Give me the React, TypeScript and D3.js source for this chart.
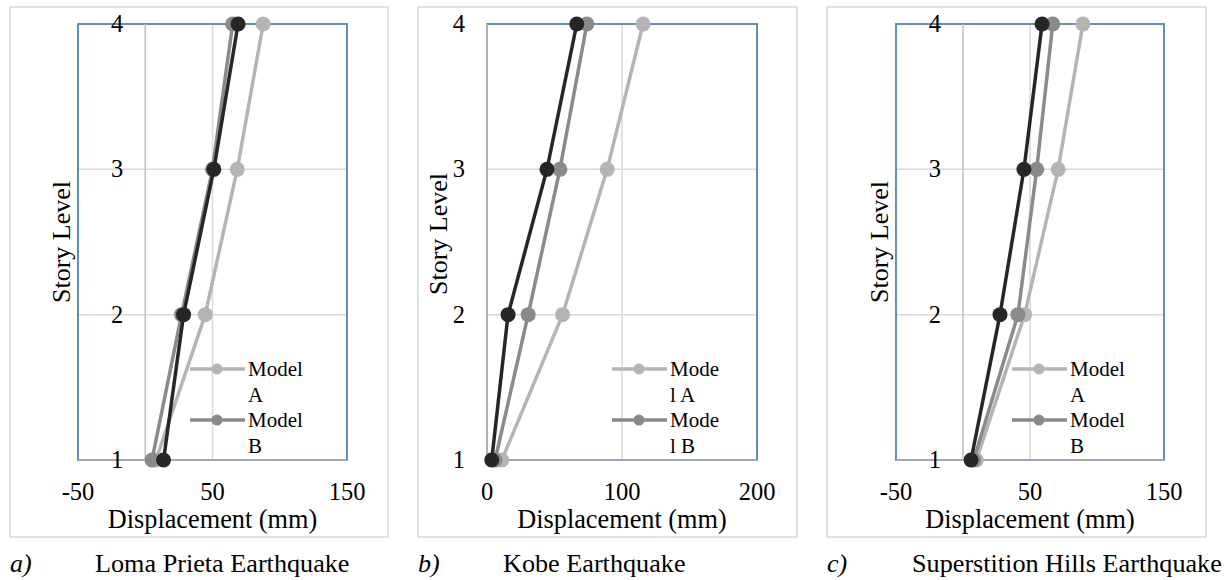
import React from 'react';
import * as d3 from 'd3';

// story levels (y) and displacements in mm (x)
const levels = [1, 2, 3, 4];

const lomaA = [8, 44.6, 68.4, 87.7];
const lomaB = [5, 27, 50, 65];
const lomaC = [13.6, 28.5, 51, 69];

const kobeA = [11, 56, 89, 115.6];
const kobeB = [6, 30.5, 54, 74];
const kobeC = [3.5, 15.6, 44.4, 66.5];

const superA = [10, 46, 71, 89.5];
const superB = [8, 41, 55, 67];
const superC = [6, 27.6, 45.5, 59];

const xTicksA = [-50, 50, 150];
const xTicksB = [0, 100, 200];
const xTicksC = [-50, 50, 150];

const captions = ['Loma Prieta Earthquake', 'Kobe Earthquake', 'Superstition Hills Earthquake'];
const captionLetters = ['a)', 'b)', 'c)'];
const legendA = [['Model', 'A'], ['Mode', 'l A'], ['Model', 'A']];
const legendB = [['Model', 'B'], ['Mode', 'l B'], ['Model', 'B']];

const colors = ['#b4b4b4', '#8a8a8a', '#262626'];
const font = 'Liberation Serif, Times New Roman, serif';

const panels = [
  { series: [lomaA, lomaB, lomaC], ticks: xTicksA, domain: [-50, 150], box: [10, 388], plot: [78, 347], titleX: 70, titleY: 242, legX: 190 },
  { series: [kobeA, kobeB, kobeC], ticks: xTicksB, domain: [0, 200], box: [418, 797], plot: [487, 757], titleX: 447, titleY: 234, legX: 612 },
  { series: [superA, superB, superC], ticks: xTicksC, domain: [-50, 150], box: [827, 1206], plot: [896, 1164], titleX: 888, titleY: 242, legX: 1012 },
];

const top = 24, bottom = 460;

function Panel({ p, i }: { p: any; i: number }) {
  const x = d3.scaleLinear().domain(p.domain).range(p.plot);
  const y = d3.scaleLinear().domain([1, 4]).range([bottom, top]);
  const line = d3.line<number>().x((d) => x(d)).y((_, k) => y(levels[k]));
  // interior major gridlines (the ticks that are not on the plot edges)
  const grid = p.ticks.filter((v: number) => v !== p.domain[0] && v !== p.domain[1]);
  const lx = p.legX;
  return (
    <g>
      <rect x={p.box[0]} y={7} width={p.box[1] - p.box[0]} height={530} fill="none" stroke="#d9d9d9" strokeWidth={1.5} />
      {grid.map((v: number) => (
        <line key={'gx' + v} x1={x(v)} x2={x(v)} y1={top} y2={bottom} stroke="#d9d9d9" strokeWidth={1.5} />
      ))}
      {[2, 3].map((v) => (
        <line key={'gy' + v} x1={p.plot[0]} x2={p.plot[1]} y1={y(v)} y2={y(v)} stroke="#d9d9d9" strokeWidth={1.5} />
      ))}
      <rect x={p.plot[0]} y={top} width={p.plot[1] - p.plot[0]} height={bottom - top} fill="none" stroke="#4a7ebb" strokeWidth={1.75} />
      {/* axis lines */}
      <line x1={p.plot[0]} x2={p.plot[1]} y1={y(1)} y2={y(1)} stroke="#a3acba" strokeWidth={1.75} />
      <line x1={x(0)} x2={x(0)} y1={top} y2={bottom} stroke="#bfbfbf" strokeWidth={1.5} />
      {/* tick labels */}
      {p.ticks.map((t: number) => (
        <text key={'tx' + t} x={x(t)} y={500} textAnchor="middle" fontSize={24.5}>{t}</text>
      ))}
      {levels.map((l) => (
        <text key={'ty' + l} x={x(0) - 22} y={y(l) + 8} textAnchor="end" fontSize={24.5}>{l}</text>
      ))}
      <text x={(p.plot[0] + p.plot[1]) / 2} y={528} textAnchor="middle" fontSize={26.3}>Displacement (mm)</text>
      <text transform={`translate(${p.titleX},${p.titleY}) rotate(-90)`} textAnchor="middle" fontSize={26}>Story Level</text>
      {/* series */}
      {p.series.map((s: number[], k: number) => (
        <g key={'s' + k}>
          <path d={line(s) || ''} fill="none" stroke={colors[k]} strokeWidth={3.5} />
          {s.map((v, j) => (
            <circle key={j} cx={x(v)} cy={y(levels[j])} r={7.5} fill={colors[k]} />
          ))}
        </g>
      ))}
      {/* legend */}
      {[legendA[i], legendB[i]].map((lab, k) => {
        const ly = 369 + k * 51;
        return (
          <g key={'l' + k}>
            <line x1={lx} x2={lx + 55} y1={ly} y2={ly} stroke={colors[k]} strokeWidth={3.5} />
            <circle cx={lx + 27} cy={ly} r={5.5} fill={colors[k]} />
            <text x={lx + 58} y={ly + 7} fontSize={21}>{lab[0]}</text>
            <text x={lx + 58} y={ly + 33} fontSize={21}>{lab[1]}</text>
          </g>
        );
      })}
      {/* caption */}
      <text x={p.box[0]} y={572} fontSize={26} fontStyle="italic">{captionLetters[i]}</text>
      <text x={p.box[0] + 85} y={572} fontSize={26.2}>{captions[i]}</text>
    </g>
  );
}

export default function App() {
  return (
    <svg width={1231} height={580} style={{ position: 'absolute', left: 0, top: 0, background: '#fff', fontFamily: font }}>
      <rect width={1231} height={580} fill="#fff" />
      {panels.map((p, i) => (
        <Panel key={i} p={p} i={i} />
      ))}
    </svg>
  );
}
